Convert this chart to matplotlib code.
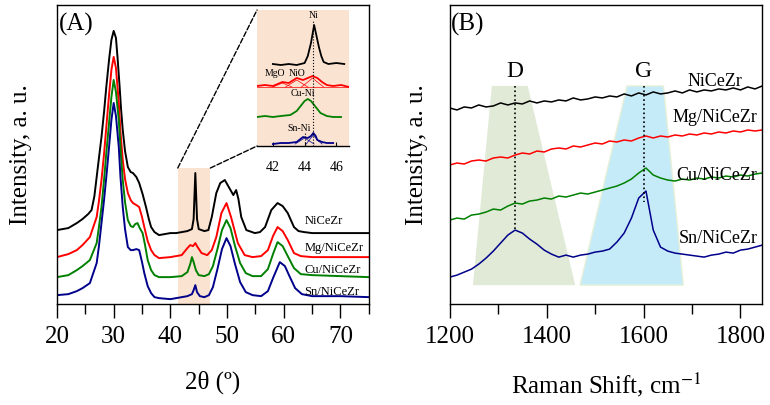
import numpy as np
import matplotlib
matplotlib.use('Agg')
import matplotlib.pyplot as plt
from matplotlib.patches import Rectangle, Polygon, ConnectionPatch
from matplotlib.ticker import MultipleLocator

plt.rcParams['font.family'] = ['Liberation Serif', 'DejaVu Serif']
plt.rcParams['mathtext.fontset'] = 'stix'
plt.rcParams['axes.linewidth'] = 1.0

colors = ['#000000', '#ff0000', '#008000', '#00008b']
samples = ['NiCeZr', 'Mg/NiCeZr', 'Cu/NiCeZr', 'Sn/NiCeZr']

# ---- (A) XRD, stacked intensities (a.u.) ----
xrd_black = [(20, 74), (22, 76), (23.5, 81), (24.5, 85), (25.5, 90), (26.1, 94), (26.6, 108),
             (27, 127), (27.4, 146), (27.85, 167), (28.3, 192), (28.7, 217), (29.2, 245),
             (29.6, 264), (30, 273), (30.4, 266), (30.7, 245), (31.05, 217), (31.3, 195),
             (31.6, 174), (32, 153), (32.5, 137), (33, 132), (33.4, 131), (34, 127), (34.5, 121),
             (35.1, 110), (35.7, 97), (36.2, 85), (36.6, 77), (37.2, 72), (38, 69), (39, 70),
             (40, 71), (41, 71), (42, 72), (43, 73), (43.8, 75), (44.1, 85), (44.4, 131),
             (44.7, 85), (45, 75), (46, 73), (46.7, 74), (47.3, 87), (48.1, 111), (48.8, 121),
             (49.6, 124), (50.3, 117), (51.1, 109), (51.6, 114), (52, 105), (52.5, 87),
             (53.4, 74), (54.9, 71), (55.8, 72), (56.7, 77), (57.8, 94), (58.9, 101), (59.8, 98),
             (60.7, 91), (61.8, 77), (62.6, 73), (63.6, 72), (65, 71), (70, 71), (75, 71)]
xrd_red = [(20, 47), (22, 50), (23.5, 54), (24.5, 59), (25.8, 67), (27, 87), (27.4, 103),
           (27.85, 124), (28.3, 150), (28.7, 177), (29.2, 210), (29.6, 234), (30, 247),
           (30.4, 236), (30.9, 201), (31.2, 172), (31.6, 144), (32, 125), (32.5, 111), (33, 104),
           (33.4, 101), (34, 99), (34.5, 97), (35, 87), (35.4, 77), (36, 63), (36.6, 54),
           (37.2, 49), (38, 46), (40, 47), (42, 49), (43, 56), (43.5, 59), (44.0, 58), (44.4, 61),
           (44.8, 57), (45.5, 51), (46.5, 49), (47.3, 54), (48.1, 67), (49, 91), (49.9, 101),
           (50.7, 87), (51.9, 61), (53.1, 49), (54.5, 47), (56, 48), (57.2, 54), (58.1, 68),
           (58.9, 77), (59.8, 73), (60.7, 64), (61.8, 51), (63, 48), (65, 47), (70, 47), (75, 47)]
xrd_green = [(20, 27), (22, 29), (23.5, 34), (24.5, 38), (25.8, 44), (27, 61), (27.4, 77),
             (27.85, 97), (28.3, 124), (28.7, 151), (29.2, 182), (29.6, 207), (30, 224),
             (30.4, 212), (30.9, 184), (31.2, 156), (31.6, 124), (32, 102), (32.5, 84), (33, 78),
             (33.4, 77), (33.8, 80), (34.2, 81), (34.6, 76), (35.1, 71), (35.5, 60), (36, 44),
             (36.6, 34), (37.2, 29), (38, 27), (40, 27), (42, 28), (43, 32), (43.5, 40),
             (43.8, 47), (44.1, 42), (44.5, 34), (45, 29), (46, 28), (46.8, 30), (47.5, 38),
             (48.3, 55), (49.1, 74), (49.9, 84), (50.6, 76), (51.4, 58), (52.3, 41), (53.3, 31),
             (54.5, 28), (56, 28), (57.2, 35), (58.1, 50), (58.9, 62), (59.8, 58), (60.7, 48),
             (61.8, 36), (63, 30), (65, 29), (70, 28), (75, 27)]
xrd_blue = [(20, 9), (22, 10), (23.5, 13), (24.5, 16), (25.8, 21), (27, 41), (27.4, 58),
            (27.85, 81), (28.3, 104), (28.7, 127), (29.2, 158), (29.6, 184), (30, 201),
            (30.4, 188), (30.9, 157), (31.2, 127), (31.6, 97), (32, 75), (32.5, 57), (33, 54),
            (33.4, 54), (34, 55), (34.5, 54), (35, 42), (35.4, 31), (36, 18), (36.6, 11),
            (37.2, 7), (38, 6), (40, 5), (42, 7), (43, 8), (43.8, 10), (44.1, 14), (44.4, 19),
            (44.7, 12), (45.2, 8), (46, 7), (46.8, 9), (47.5, 17), (48.3, 35), (49.1, 55),
            (49.9, 66), (50.6, 58), (51.4, 40), (52.3, 22), (53.3, 12), (54.5, 9), (56, 8),
            (57.2, 13), (58.1, 26), (59.3, 42), (60.2, 38), (61, 28), (62, 16), (63.2, 10),
            (65, 8), (70, 8), (75, 7)]
xrd_curves = [xrd_black, xrd_red, xrd_green, xrd_blue]
xrd_label_y = [83, 56, 34, 12]

# inset (zoom 41-47 deg)
ins_black = [(42.0, 82), (42.5, 81), (43.0, 82), (43.5, 81), (44.0, 83), (44.2, 90), (44.4, 103),
             (44.6, 121), (44.75, 110), (44.9, 99), (45.05, 90), (45.2, 84), (45.5, 82),
             (46.0, 83), (46.5, 82)]
ins_red = [(41.0, 60), (41.5, 61), (42.0, 60), (42.6, 64), (43.0, 63), (43.5, 68), (43.9, 66),
           (44.2, 68), (44.5, 70), (44.8, 68), (45.1, 64), (45.4, 61), (45.8, 60), (46.3, 61),
           (46.8, 59)]
ins_green = [(41.0, 29), (41.5, 30), (42.0, 29), (42.5, 30), (43.1, 31), (43.5, 35), (43.8, 41),
             (44.0, 45), (44.2, 47), (44.4, 45), (44.7, 39), (45.0, 33), (45.4, 30), (45.8, 29),
             (46.3, 29)]
ins_blue = [(42.0, 2), (42.5, 3), (43.0, 3), (43.5, 4), (43.9, 9), (44.2, 8), (44.4, 10),
            (44.55, 13), (44.7, 10), (44.8, 6), (45.1, 4), (45.4, 3), (45.8, 3)]
ins_curves = [ins_black, ins_red, ins_green, ins_blue]
# fitted components (thin lines)
fit_red = [[(41.0, 59), (46.8, 59)],
           [(42.0, 59), (42.3, 61), (42.6, 63), (42.9, 61), (43.2, 59)],
           [(42.8, 59), (43.2, 63), (43.5, 66), (43.8, 63), (44.2, 59)],
           [(43.8, 59), (44.2, 64), (44.5, 68), (44.8, 64), (45.2, 59)]]
fit_blue = [[(43.4, 2), (43.7, 5), (44.0, 8), (44.3, 5), (44.6, 2)],
            [(44.1, 2), (44.35, 7), (44.55, 11), (44.8, 6), (45.1, 2)]]
ins_labels = [('Ni', 44.55, 131), ('MgO', 42.1, 73), ('NiO', 43.5, 73),
              ('Cu-Ni', 43.9, 53), ('Sn-Ni', 43.65, 18)]

# ---- (B) Raman ----
shift = np.arange(1200, 1846, 15)
raman_black = [196, 194, 197, 196, 199, 197, 198, 201, 199, 201, 200, 203, 201, 203, 202, 204,
               203, 206, 204, 205, 207, 206, 208, 207, 210, 208, 211, 209, 212, 210, 211, 213,
               211, 214, 212, 214, 213, 215, 214, 216, 214, 217, 215, 218]
raman_red = [139, 141, 140, 143, 144, 143, 146, 147, 146, 149, 151, 150, 153, 152, 155, 156,
             155, 158, 157, 159, 161, 160, 163, 162, 164, 163, 166, 168, 166, 168, 167, 169,
             168, 170, 169, 171, 170, 172, 171, 173, 172, 174, 173, 174]
raman_green = [84, 86, 85, 89, 90, 92, 95, 94, 98, 101, 100, 103, 104, 106, 105, 108, 107, 109,
               111, 110, 112, 114, 116, 118, 121, 125, 131, 136, 129, 126, 124, 123, 125, 124,
               126, 125, 127, 126, 128, 127, 129, 128, 130, 131]
raman_blue = [27, 29, 32, 35, 40, 46, 53, 61, 69, 74, 71, 65, 60, 54, 50, 47, 49, 47, 49, 50,
              52, 53, 55, 62, 71, 86, 106, 113, 74, 57, 53, 51, 50, 49, 48, 47, 49, 50, 52, 51,
              54, 55, 57, 59]
raman_curves = [raman_black, raman_red, raman_green, raman_blue]
raman_label_pos = [(1804, 222), (1835, 186), (1835, 129), (1835, 66)]
band_D = [(1248, 19), (1287, 218), (1361, 218), (1459, 19)]
band_G = [(1469, 19), (1566, 218), (1641, 218), (1682, 19)]
peak_D, peak_G = 1335, 1600

peach = '#fbe3d2'

fig = plt.figure(figsize=(7.7, 4.05), dpi=100)
ax1 = fig.add_axes([0.074, 0.249, 0.405, 0.739])
ax2 = fig.add_axes([0.584, 0.249, 0.406, 0.739])

# panel A
ax1.add_patch(Rectangle((41.3, 0), 5.75, 136, color=peach, lw=0, zorder=0))
for pts, c in zip(xrd_curves, colors):
    x, y = zip(*pts)
    ax1.plot(x, y, color=c, lw=1.4)
for s, yl in zip(samples, xrd_label_y):
    ax1.text(63.6, yl, s, fontsize=9, ha='left', va='center')
ax1.set_xlim(20, 75)
ax1.set_ylim(0, 299)
ax1.set_yticks([])
ax1.xaxis.set_major_locator(MultipleLocator(10))
ax1.xaxis.set_minor_locator(MultipleLocator(5))
ax1.tick_params(axis='x', which='major', direction='out', length=10, width=1,
                labelsize=18, pad=6)
ax1.tick_params(axis='x', which='minor', direction='out', length=7, width=1)
ax1.set_xlabel('2θ (º)', fontsize=18, labelpad=16)
ax1.set_ylabel('Intensity, a. u.', fontsize=18)
ax1.yaxis.set_label_coords(-0.08, 0.5)
ax1.text(0.005, 0.935, '(A)', transform=ax1.transAxes, fontsize=18, ha='left', va='center')

# inset
axi = fig.add_axes([0.3338, 0.6395, 0.1195, 0.3358])
axi.set_facecolor(peach)
for pts, c in zip(ins_curves, colors):
    x, y = zip(*pts)
    axi.plot(x, y, color=c, lw=1.3)
for pts in fit_red:
    x, y = zip(*pts)
    axi.plot(x, y, color=colors[1], lw=0.5)
for pts in fit_blue:
    x, y = zip(*pts)
    axi.plot(x, y, color=colors[3], lw=0.5)
axi.plot([44.55, 44.55], [0, 126], ':', color='k', lw=0.8)
axi.plot([44.0, 44.0], [0, 13], ':', color='k', lw=0.8)
for t, x, y in ins_labels:
    axi.text(x, y, t, fontsize=7, ha='center', va='center')
axi.set_xlim(41, 46.8)
axi.set_ylim(0, 136)
axi.set_yticks([])
axi.set_xticks([42, 44, 46])
axi.tick_params(axis='x', direction='in', length=3, labelsize=10, pad=11)
for sp in ['top', 'left', 'right']:
    axi.spines[sp].set_visible(False)

for xyA, xyB in [((41.3, 136), (0, 1)), ((47.05, 136), (0, 0))]:
    con = ConnectionPatch(xyA=xyA, coordsA=ax1.transData, xyB=xyB, coordsB=axi.transAxes,
                          ls='--', lw=1, color='k')
    fig.add_artist(con)

# panel B
ax2.add_patch(Polygon(band_D, closed=True, color='#e0ead6', lw=0, zorder=0))
ax2.add_patch(Polygon(band_G, closed=True, facecolor='#c6ebf8', edgecolor='#e6f0d8', lw=1,
                      zorder=0))
for yv, c in zip(raman_curves, colors):
    ax2.plot(shift, yv, color=c, lw=1.1)
ax2.plot([peak_D, peak_D], [218, 74], ':', color='k', lw=1.2)
ax2.plot([peak_G, peak_G], [218, 102], ':', color='k', lw=1.2)
ax2.text(peak_D, 232, 'D', fontsize=17, ha='center', va='center')
ax2.text(peak_G, 232, 'G', fontsize=17, ha='center', va='center')
for s, (xl, yl) in zip(samples, raman_label_pos):
    ax2.text(xl, yl, s, fontsize=13, ha='right', va='center')
ax2.set_xlim(1200, 1845)
ax2.set_ylim(0, 299)
ax2.set_yticks([])
ax2.xaxis.set_major_locator(MultipleLocator(200))
ax2.xaxis.set_minor_locator(MultipleLocator(100))
ax2.tick_params(axis='x', which='major', direction='out', length=10, width=1,
                labelsize=18, pad=6)
ax2.tick_params(axis='x', which='minor', direction='out', length=7, width=1)
ax2.set_xlabel('Raman Shift, cm$^{-1}$', fontsize=18, labelpad=16)
ax2.set_ylabel('Intensity, a. u.', fontsize=18)
ax2.yaxis.set_label_coords(-0.07, 0.5)
ax2.text(0.005, 0.935, '(B)', transform=ax2.transAxes, fontsize=18, ha='left', va='center')

fig.savefig('out.png', dpi=100)
